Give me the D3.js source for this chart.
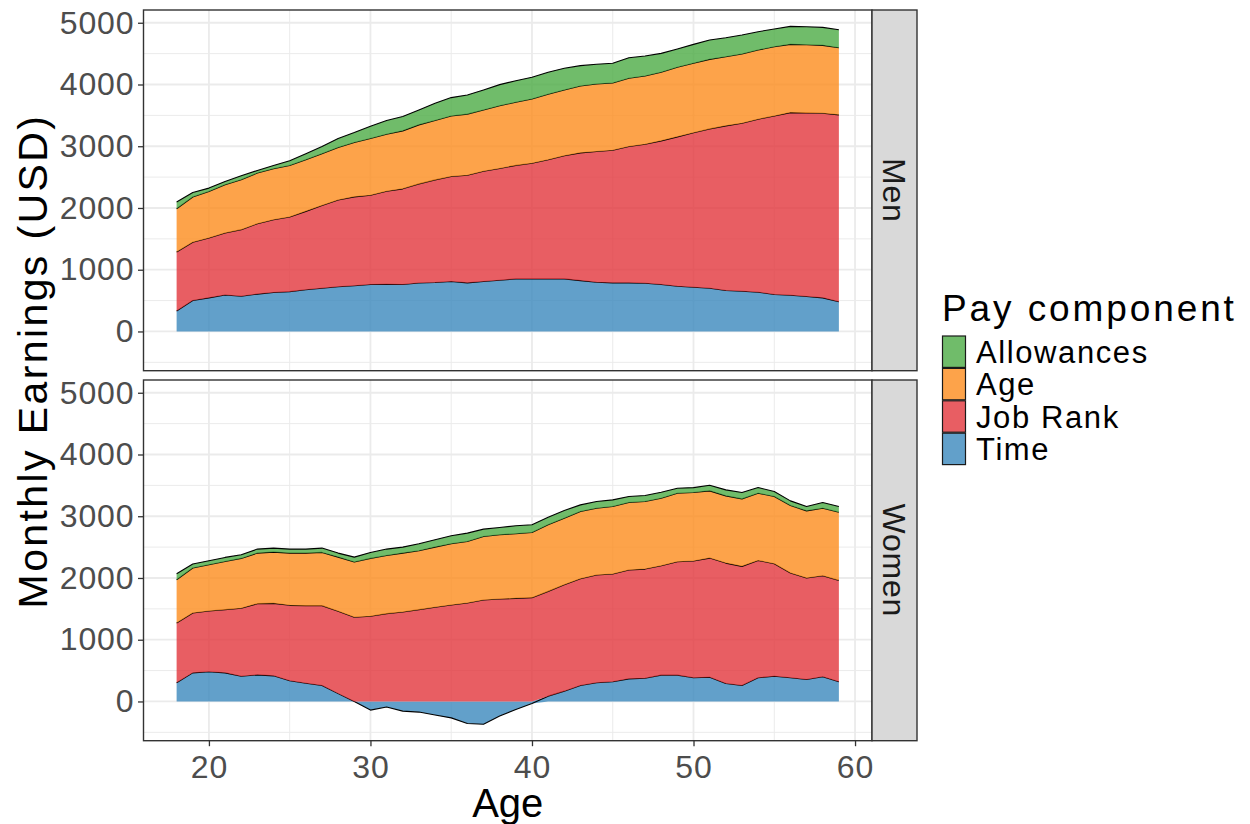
<!DOCTYPE html>
<html>
<head>
<meta charset="utf-8">
<script src="https://cdn.jsdelivr.net/npm/d3@7"></script>
<style>
  body { margin: 0; background: #ffffff; }
  text { font-family: "Liberation Sans", Arial, Helvetica, sans-serif; }
</style>
</head>
<body>
<svg id="chart" width="1250" height="824"></svg>
<script>
// ---- data: monthly earnings by pay component, ages 18-59 ----
const ages = [18,19,20,21,22,23,24,25,26,27,28,29,30,31,32,33,34,35,36,37,38,
              39,40,41,42,43,44,45,46,47,48,49,50,51,52,53,54,55,56,57,58,59];

const menTime = [330,501,544,590,571,605,630,645,675,700,725,740,760,763,760,785,792,810,787,810,830,
                 851,851,851,851,824,797,787,787,781,760,733,717,700,663,652,636,598,587,566,544,480];
const menJobRank = [958,943,970,1005,1078,1140,1178,1210,1270,1340,1405,1440,1445,1507,1550,1605,1663,1700,1743,1785,1810,
                    1839,1874,1929,1994,2069,2118,2149,2209,2252,2327,2419,2500,2581,2667,2721,2802,2893,2958,2974,2990,3028];
const menAge = [700,733,754,781,808,820,827,834,835,837,850,880,920,925,939,956,963,980,990,993,1015,
                1022,1041,1062,1067,1083,1094,1089,1104,1105,1110,1126,1126,1126,1120,1121,1120,1121,1105,1104,1100,1088];
const menAllowances = [108,75,54,54,65,43,54,75,97,119,145,161,200,221,232,242,278,298,311,324,343,
                       350,350,355,350,329,318,318,334,323,307,296,307,313,307,307,297,286,291,291,291,291];

const womenTime = [302,463,480,463,409,431,415,335,296,259,127,0,-140,-90,-156,-172,-220,-266,-358,-370,-237,
                   -129,-32,86,167,259,302,318,366,377,426,426,383,393,291,259,383,409,383,356,399,318];
const womenJobRank = [970,970,986,1024,1100,1153,1174,1222,1256,1293,1333,1363,1379,1422,1449,1487,1525,1563,1595,1643,1659,
                      1670,1681,1697,1724,1729,1745,1746,1762,1767,1772,1837,1891,1929,1950,1929,1901,1822,1697,1643,1638,1643];
const womenAge = [700,728,748,781,808,819,830,846,851,862,878,895,938,943,954,954,975,991,997,1029,1040,
                  1046,1056,1078,1078,1089,1083,1093,1094,1094,1094,1110,1110,1089,1089,1093,1089,1088,1093,1088,1093,1105];
const womenAllowances = [97,64,65,65,59,65,65,65,65,70,65,80,97,103,97,113,119,129,134,119,119,
                         129,124,124,124,107,108,108,97,97,97,81,80,91,97,103,91,81,76,70,92,91];

// stacking order, bottom to top
const components = ["Time", "Job Rank", "Age", "Allowances"];
const facetLabels = ["Men", "Women"];
const yTicks = [0, 1000, 2000, 3000, 4000, 5000];
const yMinorTicks = [-500, 500, 1500, 2500, 3500, 4500];
const xTicks = [20, 30, 40, 50, 60];
const xMinorTicks = [25, 35, 45, 55];

const fills = {
  "Time": "#3B88BD",
  "Job Rank": "#E2363C",
  "Age": "#FC8C1D",
  "Allowances": "#4CAB45"
};
const fillOpacity = 0.8;

// ---- layout ----
const svg = d3.select("#chart");
const panelX0 = 143.5, panelX1 = 872, stripX1 = 917;
const panelBoxes = [
  { top: 10, bottom: 370.7 },
  { top: 380, bottom: 740.7 }
];

function rowsFor(time, rank, age, allow) {
  return ages.map((a, i) => ({
    age: a, "Time": time[i], "Job Rank": rank[i], "Age": age[i], "Allowances": allow[i]
  }));
}
const facetRows = [
  rowsFor(menTime, menJobRank, menAge, menAllowances),
  rowsFor(womenTime, womenJobRank, womenAge, womenAllowances)
];

// negative values stack below zero, positives above
const stacker = d3.stack().keys(components).offset(d3.stackOffsetDiverging);
const stacked = facetRows.map(rows => stacker(rows));

// shared scales with 5% expansion, as in the faceted layout
const xExt = d3.extent(ages);
const xPad = (xExt[1] - xExt[0]) * 0.05;
const allY = stacked.flatMap(s => s.flatMap(layer => layer.flatMap(d => [d[0], d[1]])));
const yExt = d3.extent(allY);
const yPad = (yExt[1] - yExt[0]) * 0.05;

const x = d3.scaleLinear().domain([xExt[0] - xPad, xExt[1] + xPad]).range([panelX0, panelX1]);

const gridColor = "#EBEBEB";
const borderColor = "#333333";

panelBoxes.forEach((box, p) => {
  const y = d3.scaleLinear().domain([yExt[0] - yPad, yExt[1] + yPad]).range([box.bottom, box.top]);
  const g = svg.append("g");

  // background grid
  g.append("g").selectAll("line").data(yMinorTicks).join("line")
    .attr("x1", panelX0).attr("x2", panelX1)
    .attr("y1", d => y(d)).attr("y2", d => y(d))
    .attr("stroke", gridColor).attr("stroke-width", 1.0);
  g.append("g").selectAll("line").data(xMinorTicks).join("line")
    .attr("y1", box.top).attr("y2", box.bottom)
    .attr("x1", d => x(d)).attr("x2", d => x(d))
    .attr("stroke", gridColor).attr("stroke-width", 1.0);
  g.append("g").selectAll("line").data(yTicks).join("line")
    .attr("x1", panelX0).attr("x2", panelX1)
    .attr("y1", d => y(d)).attr("y2", d => y(d))
    .attr("stroke", gridColor).attr("stroke-width", 1.8);
  g.append("g").selectAll("line").data(xTicks).join("line")
    .attr("y1", box.top).attr("y2", box.bottom)
    .attr("x1", d => x(d)).attr("x2", d => x(d))
    .attr("stroke", gridColor).attr("stroke-width", 1.8);

  // stacked areas
  const area = d3.area()
    .x(d => x(d.data.age))
    .y0(d => y(d[0]))
    .y1(d => y(d[1]));
  // outline follows each component's own end (top for positive, bottom for negative)
  const outline = key => d3.line()
    .x(d => x(d.data.age))
    .y(d => y(d.data[key] >= 0 ? d[1] : d[0]));

  const layers = g.append("g").selectAll("g").data(stacked[p]).join("g");
  layers.append("path")
    .attr("d", area)
    .attr("fill", d => fills[d.key])
    .attr("fill-opacity", fillOpacity);
  layers.append("path")
    .attr("d", d => outline(d.key)(d))
    .attr("fill", "none")
    .attr("stroke", "#000000")
    .attr("stroke-width", 1.1)
    .attr("stroke-linejoin", "round");

  // panel border
  g.append("rect")
    .attr("x", panelX0).attr("y", box.top)
    .attr("width", panelX1 - panelX0).attr("height", box.bottom - box.top)
    .attr("fill", "none").attr("stroke", borderColor).attr("stroke-width", 1.4);

  // facet strip
  g.append("rect")
    .attr("x", panelX1).attr("y", box.top)
    .attr("width", stripX1 - panelX1).attr("height", box.bottom - box.top)
    .attr("fill", "#D9D9D9").attr("stroke", borderColor).attr("stroke-width", 1.4);
  g.append("text")
    .attr("transform", `translate(${(panelX1 + stripX1) / 2},${(box.top + box.bottom) / 2}) rotate(90)`)
    .attr("text-anchor", "middle")
    .attr("dy", "0.35em")
    .attr("font-size", 32)
    .attr("letter-spacing", 0.8)
    .attr("fill", "#1A1A1A")
    .text(facetLabels[p]);

  // y axis
  const yAxis = g.append("g")
    .attr("transform", `translate(${panelX0},0)`)
    .call(d3.axisLeft(y).tickValues(yTicks).tickSize(5.5).tickPadding(3.5).tickFormat(d3.format("d")));
  yAxis.select(".domain").remove();
  yAxis.selectAll(".tick line").attr("stroke", borderColor).attr("stroke-width", 1.3);
  yAxis.selectAll(".tick text")
    .attr("font-size", 32).attr("letter-spacing", 0.9)
    .attr("fill", "#4D4D4D").attr("font-family", "'Liberation Sans', Arial, sans-serif");

  // x axis only under the bottom panel
  if (p === panelBoxes.length - 1) {
    const xAxis = g.append("g")
      .attr("transform", `translate(0,${box.bottom})`)
      .call(d3.axisBottom(x).tickValues(xTicks).tickSize(5.5).tickPadding(9.5));
    xAxis.select(".domain").remove();
    xAxis.selectAll(".tick line").attr("stroke", borderColor).attr("stroke-width", 1.3);
    xAxis.selectAll(".tick text")
      .attr("font-size", 32).attr("letter-spacing", 0.9)
      .attr("fill", "#4D4D4D").attr("font-family", "'Liberation Sans', Arial, sans-serif");
  }
});

// axis titles
svg.append("text")
  .attr("x", (panelX0 + panelX1) / 2).attr("y", 817)
  .attr("text-anchor", "middle")
  .attr("font-size", 40)
  .attr("fill", "#000000")
  .text("Age");

svg.append("text")
  .attr("transform", "translate(47,361) rotate(-90)")
  .attr("text-anchor", "middle")
  .attr("font-size", 41)
  .attr("letter-spacing", 2.4)
  .attr("fill", "#000000")
  .text("Monthly Earnings (USD)");

// legend
const legend = svg.append("g").attr("transform", "translate(942,0)");
legend.append("text")
  .attr("x", 0).attr("y", 320.7)
  .attr("font-size", 37)
  .attr("letter-spacing", 2.9)
  .attr("fill", "#000000")
  .text("Pay component");

const legendOrder = components.slice().reverse();
const keyH = 32.4, keyW = 23, keyTop = 335.5;
const items = legend.selectAll("g.item").data(legendOrder).join("g")
  .attr("class", "item")
  .attr("transform", (d, i) => `translate(0,${keyTop + i * keyH})`);
items.append("rect")
  .attr("x", 0.5).attr("y", 0.5)
  .attr("width", keyW).attr("height", keyH - 1)
  .attr("fill", d => fills[d]).attr("fill-opacity", fillOpacity)
  .attr("stroke", "#1A1A1A").attr("stroke-width", 1.2);
items.append("text")
  .attr("x", 34).attr("y", keyH / 2)
  .attr("dy", "0.36em")
  .attr("font-size", 31)
  .attr("letter-spacing", 1.6)
  .attr("fill", "#000000")
  .text(d => d);
</script>
</body>
</html>
